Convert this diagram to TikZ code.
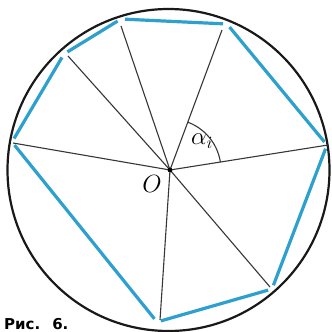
\documentclass[tikz,border=0pt]{standalone}
\usepackage{fontspec}
\newfontfamily\capfont{DejaVu Sans}
\definecolor{polyblue}{RGB}{45,160,205}
\definecolor{radgray}{RGB}{55,55,55}
\begin{document}
\begin{tikzpicture}[x=1pt,y=-1pt,
  rim/.style={draw=black!90, line width=2.2pt},
  radius line/.style={draw=radgray, line width=1.1pt},
  chord/.style={draw=polyblue, line width=3.2pt, shorten >=4pt, shorten <=4pt},
  lbl/.style={inner sep=0pt, font=\fontsize{25}{25}\selectfont}]
\useasboundingbox (0,0) rectangle (332,332);
\fill[white] (0,0) rectangle (332,332);
% circle
\draw[rim] (168.5,170) circle (161);
% centre
\coordinate (O) at (170,170);
% radius ends
\coordinate (R1) at (13,143);
\coordinate (R2) at (68,56);
\coordinate (R3) at (121,26);
\coordinate (R4) at (222,30);
\coordinate (R5) at (328,145);
\coordinate (R6) at (270,287);
\coordinate (R7) at (160,320);
% polygon vertices
\coordinate (B1) at (12,142);
\coordinate (B2) at (64,54);
\coordinate (B3) at (121,19);
\coordinate (B4) at (227,24);
\coordinate (B5) at (327,145);
\coordinate (B6) at (272,289);
\coordinate (B7) at (157,322);
% polygon
\draw[chord] (B1) -- (B2);
\draw[chord] (B2) -- (B3);
\draw[chord] (B3) -- (B4);
\draw[chord] (B4) -- (B5);
\draw[chord] (B5) -- (B6);
\draw[chord] (B6) -- (B7);
\draw[chord] (B7) -- (B1);
% radii
\foreach \r in {R1,R2,R3,R4,R5,R6,R7}{\draw[radius line] (O) -- (\r);}
\fill[black] (O) circle (2.4);
% angle
\draw[radius line] plot[domain=9:69.6, samples=40] ({170+51*cos(\x)},{170-51*sin(\x)});
\node[lbl] (alpha) at (202,141) {$\alpha_i$};
\node[lbl] (Olbl) at (152,184) {$O$};
\node[inner sep=0pt, anchor=base west, font=\capfont\bfseries\fontsize{15}{15}\selectfont] (cap) at (4,329) {Рис.\hspace{12pt}6.};
\end{tikzpicture}
\end{document}
